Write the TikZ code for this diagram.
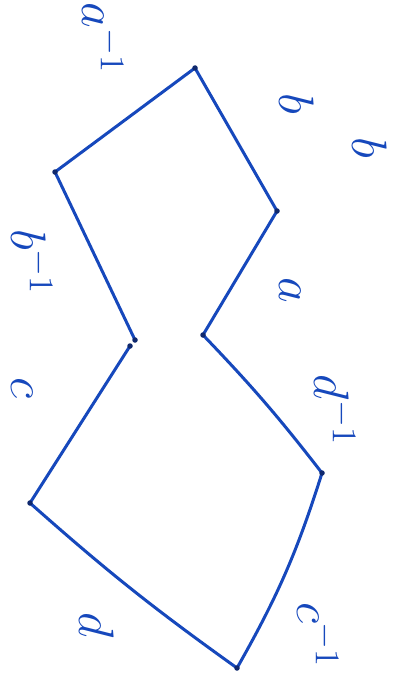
\documentclass[tikz,border=0pt]{standalone}
\usepackage{amsmath}
\usepackage{xcolor}
\usepackage{tikz}
\usetikzlibrary{calc}
\definecolor{ink}{RGB}{22,72,188}
\definecolor{dotink}{RGB}{15,40,110}
\tikzset{
	side/.style={draw=ink, line width=3pt, line join=round, line cap=round},
	corner/.style={circle, fill=dotink, minimum size=5.5pt, inner sep=0pt},
	lbl/.style={text=ink, rotate=-90, scale=2.4, inner sep=0pt, font=\huge}
}
\begin{document}
\begin{tikzpicture}[x=1pt, y=-1pt]
	\clip (0,0) rectangle (397,677);
	\fill[white] (0,0) rectangle (397,677);
	% corners of the two quadrilaterals
	\coordinate (lt) at (55,172);
	\coordinate (top) at (195,68);
	\coordinate (rt) at (277,211);
	\coordinate (pinchr) at (203,335);
	\coordinate (pinchl) at (135,340);
	\coordinate (pinchlb) at (130,346);
	\coordinate (lb) at (30,503);
	\coordinate (bot) at (237,668);
	\coordinate (rb) at (322,473);
	% sides
	\draw[side] (lt) -- (top);
	\draw[side] (top) -- (rt);
	\draw[side] (rt) -- (pinchr);
	\draw[side] (pinchl) -- (lt);
	\draw[side] (pinchr) to[bend left=3] (rb);
	\draw[side] (rb) to[bend left=6] (bot);
	\draw[side] (bot) to[bend left=3] (lb);
	\draw[side] (lb) -- (pinchlb);
	\foreach \v in {lt,top,rt,pinchr,pinchl,pinchlb,lb,bot,rb}
		\node[corner] at (\v) {};
	% side labels
	\node[lbl] (ainv) at (103,38) {$a^{-1}$};
	\node[lbl] (bone) at (297,104) {$b$};
	\node[lbl] (bout) at (370,148) {$b$};
	\node[lbl] (binv) at (32,262) {$b^{-1}$};
	\node[lbl] (atwo) at (290,290) {$a$};
	\node[lbl] (cone) at (22,388) {$c$};
	\node[lbl] (dinv) at (335,410) {$d^{-1}$};
	\node[lbl] (done) at (97,625) {$d$};
	\node[lbl] (cinv) at (318,635) {$c^{-1}$};
\end{tikzpicture}
\end{document}
